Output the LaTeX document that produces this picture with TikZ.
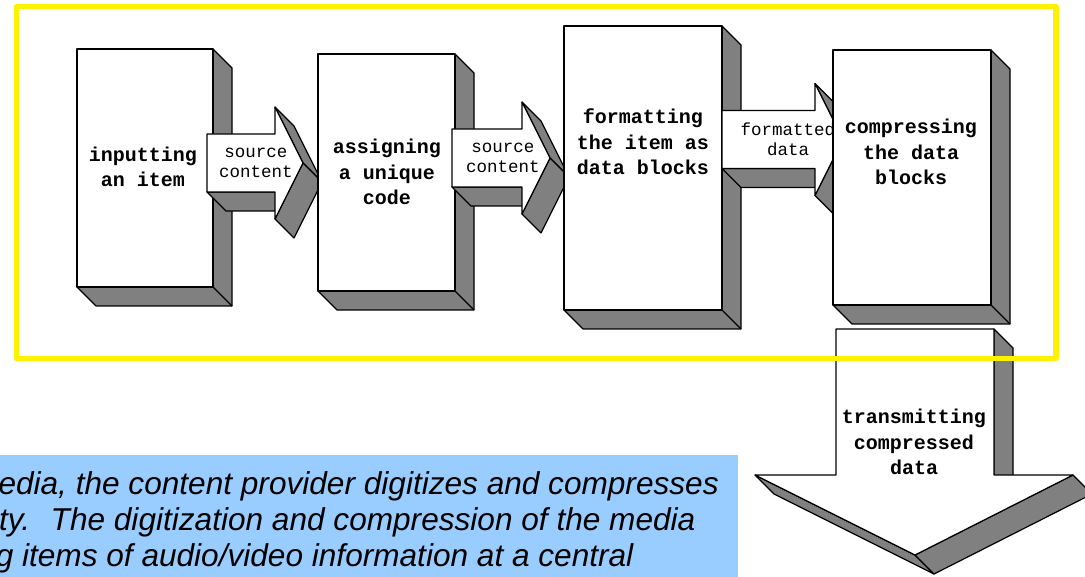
\documentclass[tikz,border=0pt]{standalone}
\usepackage{fontspec}
\setmainfont{Liberation Sans}
\newfontfamily\monofont{Liberation Mono}
\definecolor{shadegray}{HTML}{808080}
\definecolor{notefill}{HTML}{99CCFF}
\tikzset{
  face/.style={fill=white, draw=black, line width=1.2pt},
  side/.style={fill=shadegray, draw=black, line width=1.2pt},
  boxtext/.style={font=\monofont\bfseries\fontsize{20}{25.5}\selectfont, align=center, inner sep=0pt},
  flowtext/.style={font=\monofont\fontsize{17.5}{20}\selectfont, align=center, inner sep=0pt},
  notetext/.style={font=\itshape\fontsize{31.6}{36}\selectfont, inner sep=0pt}
}
\begin{document}
\begin{tikzpicture}[x=1pt, y=-1pt, line join=round]
\useasboundingbox (0,0) rectangle (1085,577);
\clip (0,0) rectangle (1085,577);
% note at the bottom
\fill[notefill] (0,455) rectangle (738,577);
\node[notetext, anchor=base west] (note1) at (-28,494) {media, the content provider digitizes and compresses};
\node[notetext, anchor=base west] (note2) at (-8,530) {ity.~ The digitization and compression of the media};
\node[notetext, anchor=base west] (note3) at (-22,566) {ng items of audio/video information at a central};
% stages: block, then the arrow into the next block
\foreach \i/\xa/\ya/\xb/\yb/\sa/\sb/\m/\bx/\by/\btxt/\atx/\atxt in {
  1/77/49/213/287/207/275/163/143/167/{inputting\\an item}/256/{source\\content},
  2/318/54/455/291/452/522/158/387/172/{assigning\\a unique\\code}/503/{source\\content},
  3/564/26/722/310/722/815/139.5/643/142/{formatting\\the item as\\data blocks}/788/{formatted\\data},
  4/833/50/991/305/0/0/0/911/152/{compressing\\the data\\blocks}/0/{}}
{
  \draw[side] (\xb,\ya) -- ++(19,19) -- (\xb+19,\yb+19) -- (\xa+19,\yb+19) -- (\xa,\yb) -- cycle;
  \draw[side] (\xb,\yb) -- ++(19,19);
  \draw[face] (\xa,\ya) rectangle (\xb,\yb);
  \node[boxtext] (block\i) at (\bx,\by) {\btxt};
  \ifnum\i<4
    \draw[side] (\sa,\m+29) -- (\sb,\m+29) -- (\sb+19,\m+48) -- (\sa+19,\m+48) -- cycle;
    \draw[side] (\sb,\m-56) -- (\sb+28,\m) -- (\sb+47,\m+19) -- (\sb+19,\m-37) -- cycle;
    \draw[side] (\sb,\m+56) -- (\sb+28,\m) -- (\sb+47,\m+19) -- (\sb+19,\m+75) -- cycle;
    \draw[face] (\sa,\m-29) -- (\sb,\m-29) -- (\sb,\m-56) -- (\sb+28,\m) -- (\sb,\m+56) -- (\sb,\m+29) -- (\sa,\m+29) -- cycle;
    \node[flowtext] (flow\i) at (\atx,\m) {\atxt};
  \fi
}
% arrow down
\draw[side] (755,475) -- (915,555) -- (934,574) -- (774,494) -- cycle;
\draw[side] (1073,475) -- (915,555) -- (934,574) -- (1092,494) -- cycle;
\draw[side] (994,329) -- (1013,348) -- (1013,494) -- (994,475) -- cycle;
\draw[face] (836,329) -- (994,329) -- (994,475) -- (1073,475) -- (915,555) -- (755,475) -- (836,475) -- cycle;
\node[boxtext] (send) at (914,442) {transmitting\\compressed\\data};
% frame
\draw[yellow, line width=5.5pt] (16.5,6.5) rectangle (1056,358.5);
\end{tikzpicture}
\end{document}
